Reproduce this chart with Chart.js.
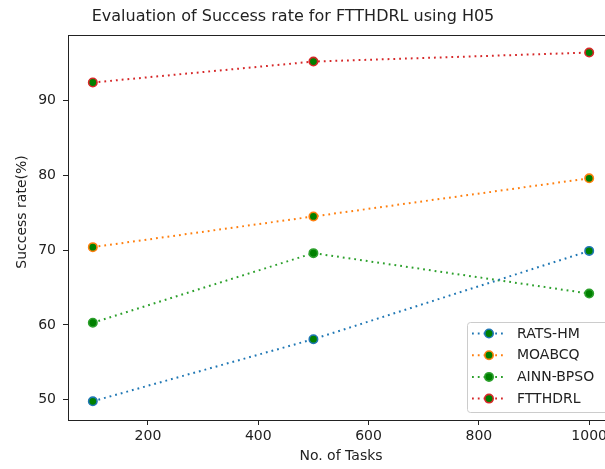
<!DOCTYPE html>
<html>
<head>
<meta charset="utf-8">
<script src="https://cdn.jsdelivr.net/npm/chart.js@4"></script>
<style>
html,body{margin:0;padding:0;overflow:hidden;background:#fff;width:605px;height:469px;}
#wrap{width:620px;height:469px;}
</style>
</head>
<body>
<div id="wrap"><canvas id="c" width="620" height="469"></canvas></div>
<script>
const tasks = [100, 500, 1000];
const ratsHM = [49.8, 58.1, 69.9];
const moabcq = [70.4, 74.5, 79.6];
const ainnBpso = [60.3, 69.6, 64.2];
const ftthdrl = [92.4, 95.2, 96.4];
const seriesNames = ['RATS-HM', 'MOABCQ', 'AINN-BPSO', 'FTTHDRL'];
const seriesColors = ['#1f77b4', '#ff7f0e', '#2ca02c', '#d62728'];
const xTicks = [200, 400, 600, 800, 1000];
const yTicks = [50, 60, 70, 80, 90];
const titleText = 'Evaluation of Success rate for FTTHDRL using H05';
const xLabel = 'No. of Tasks';
const yLabel = 'Success rate(%)';

const FONT = 'DejaVu Sans';
const allSeries = [ratsHM, moabcq, ainnBpso, ftthdrl];
const DASH = [1.8, 4];

const datasets = allSeries.map((vals, i) => ({
  label: seriesNames[i],
  data: tasks.map((t, j) => ({x: t, y: vals[j]})),
  borderColor: seriesColors[i],
  backgroundColor: seriesColors[i],
  borderWidth: 2,
  borderDash: DASH,
  pointRadius: 4.2,
  pointBackgroundColor: '#008000',
  pointBorderColor: seriesColors[i],
  pointBorderWidth: 1.6,
  tension: 0,
  fill: false
}));

const decor = {
  id: 'decor',
  afterDraw(chart) {
    const ctx = chart.ctx;
    const a = chart.chartArea;
    ctx.save();
    ctx.strokeStyle = '#222';
    ctx.lineWidth = 1;
    ctx.strokeRect(Math.round(a.left) + 0.5, Math.round(a.top) + 0.5, Math.round(a.right - a.left), Math.round(a.bottom - a.top));
    ctx.fillStyle = '#222';
    ctx.font = '16px "' + FONT + '"';
    ctx.textAlign = 'center';
    ctx.textBaseline = 'middle';
    ctx.fillText(titleText, 293, 17);
    ctx.font = '14px "' + FONT + '"';
    ctx.fillText(xLabel, (a.left + a.right) / 2, 456);
    ctx.translate(22, 212);
    ctx.rotate(-Math.PI / 2);
    ctx.fillText(yLabel, 0, 0);
    ctx.restore();

    ctx.save();
    const bx = 467.5, by = 322.5, bw = 150, bh = 90, r = 3;
    ctx.beginPath();
    ctx.moveTo(bx + r, by);
    ctx.lineTo(bx + bw - r, by);
    ctx.arcTo(bx + bw, by, bx + bw, by + r, r);
    ctx.lineTo(bx + bw, by + bh - r);
    ctx.arcTo(bx + bw, by + bh, bx + bw - r, by + bh, r);
    ctx.lineTo(bx + r, by + bh);
    ctx.arcTo(bx, by + bh, bx, by + bh - r, r);
    ctx.lineTo(bx, by + r);
    ctx.arcTo(bx, by, bx + r, by, r);
    ctx.closePath();
    ctx.fillStyle = 'rgba(255,255,255,0.8)';
    ctx.fill();
    ctx.strokeStyle = '#cccccc';
    ctx.lineWidth = 1;
    ctx.stroke();
    chart.data.datasets.forEach((ds, i) => {
      const y = 333.5 + i * 21.7;
      ctx.strokeStyle = ds.borderColor;
      ctx.lineWidth = 2;
      ctx.setLineDash(DASH);
      ctx.beginPath();
      ctx.moveTo(472, y);
      ctx.lineTo(504, y);
      ctx.stroke();
      ctx.setLineDash([]);
      ctx.beginPath();
      ctx.arc(489, y, 4.2, 0, Math.PI * 2);
      ctx.fillStyle = ds.pointBackgroundColor;
      ctx.fill();
      ctx.lineWidth = 1.6;
      ctx.strokeStyle = ds.pointBorderColor;
      ctx.stroke();
      ctx.fillStyle = '#222';
      ctx.font = '14px "' + FONT + '"';
      ctx.textAlign = 'left';
      ctx.textBaseline = 'middle';
      ctx.fillText(ds.label, 517, y + 0.5);
    });
    ctx.restore();
  }
};

new Chart(document.getElementById('c'), {
  type: 'line',
  data: {datasets},
  options: {
    responsive: false,
    animation: false,
    layout: {padding: {top: 35, right: 6, left: 0, bottom: 0}},
    plugins: {legend: {display: false}, title: {display: false}, tooltip: {enabled: false}},
    scales: {
      x: {
        type: 'linear',
        min: 55, max: 1045,
        afterBuildTicks: s => { s.ticks = xTicks.map(v => ({value: v})); },
        afterFit: s => { s.height = 49; },
        grid: {display: true, drawOnChartArea: false, tickLength: 5, tickColor: '#222', tickWidth: 1},
        border: {display: true, color: '#222', width: 1},
        ticks: {color: '#222', font: {family: FONT, size: 14}, padding: 3, maxRotation: 0, autoSkip: false, callback: v => String(v)}
      },
      y: {
        type: 'linear',
        min: 47.3, max: 98.75,
        afterBuildTicks: s => { s.ticks = yTicks.map(v => ({value: v})); },
        afterFit: s => { s.width = 68; },
        grid: {display: true, drawOnChartArea: false, tickLength: 5, tickColor: '#222', tickWidth: 1},
        border: {display: true, color: '#222', width: 1},
        ticks: {color: '#222', font: {family: FONT, size: 14}, padding: 7, autoSkip: false, callback: v => String(v)}
      }
    }
  },
  plugins: [decor]
});
</script>
</body>
</html>
